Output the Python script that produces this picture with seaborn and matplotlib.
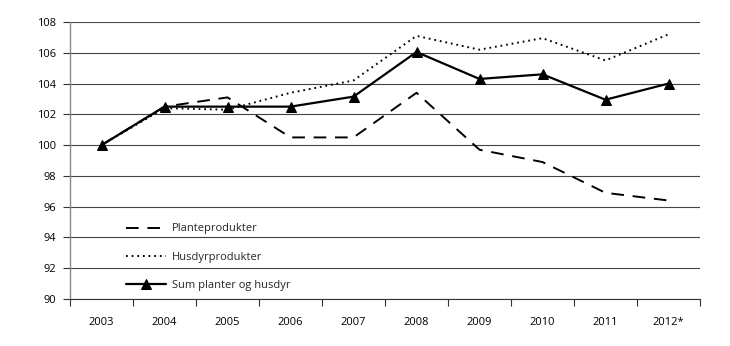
import matplotlib
matplotlib.use("Agg")
import matplotlib.pyplot as plt
import seaborn as sns
import pandas as pd

years = ["2003", "2004", "2005", "2006", "2007", "2008", "2009", "2010", "2011", "2012*"]
plante = [100.0, 102.5, 103.1, 100.5, 100.5, 103.4, 99.7, 98.9, 96.9, 96.4]
husdyr = [100.0, 102.4, 102.3, 103.4, 104.2, 107.1, 106.2, 106.95, 105.5, 107.2]
sum_ph = [100.0, 102.5, 102.5, 102.5, 103.15, 106.05, 104.3, 104.6, 102.95, 104.0]
labels = ["Planteprodukter", "Husdyrprodukter", "Sum planter og husdyr"]
yticks = [90, 92, 94, 96, 98, 100, 102, 104, 106, 108]

sns.set_theme(style="white")
plt.rcParams['font.family'] = ['Open Sans', 'DejaVu Sans']

fig = plt.figure(figsize=(7.30, 3.46), dpi=100)
ax = fig.add_axes([70/730, 1-299/346, 630/730, 277/346])

df = pd.DataFrame({"year": years, "p": plante, "h": husdyr, "s": sum_ph})

sns.lineplot(data=df, x="year", y="p", ax=ax, color="black", lw=1.4,
             label=labels[0], sort=False)
sns.lineplot(data=df, x="year", y="h", ax=ax, color="black", lw=1.4,
             label=labels[1], sort=False)
sns.lineplot(data=df, x="year", y="s", ax=ax, color="black", lw=1.6,
             marker="^", markersize=7.5, markeredgecolor="black",
             label=labels[2], sort=False)

lines = ax.get_lines()
lines[0].set_dashes([6.5, 4.5])
lines[1].set_dashes([0.9, 2.0])

ax.set_xlim(-0.5, len(years) - 0.5)
ax.set_ylim(90, 108)
ax.set_yticks(yticks)
ax.set_yticklabels([str(v) for v in yticks], fontsize=8)
ax.set_xticks(range(len(years)))
ax.set_xticklabels(years, fontsize=8)
ax.set_xticks([i - 0.5 for i in range(len(years) + 1)], minor=True)
ax.tick_params(axis="x", which="major", length=0, pad=13, colors="black")
ax.tick_params(axis="x", which="minor", length=5, width=0.8, color="#333333", bottom=True)
ax.tick_params(axis="y", which="major", length=5, width=0.8, color="#333333", left=True, pad=5, colors="black")
for t in ax.get_yticklines():
    t.set_color("#333333")

ax.yaxis.grid(True, color="#444444", lw=0.8)
ax.xaxis.grid(False)
ax.set_axisbelow(True)
ax.set_xlabel("")
ax.set_ylabel("")
for s in ["top", "right"]:
    ax.spines[s].set_visible(False)
ax.spines["left"].set_color("#888888")
ax.spines["left"].set_linewidth(1.0)
ax.spines["bottom"].set_color("#333333")
ax.spines["bottom"].set_linewidth(0.8)

leg = ax.legend(loc="upper left", bbox_to_anchor=(52/630, (299-219)/277),
                frameon=False, fontsize=8, handlelength=3.6, handletextpad=0.5,
                labelspacing=1.55, borderaxespad=0)

fig.savefig("out.png", dpi=100)
